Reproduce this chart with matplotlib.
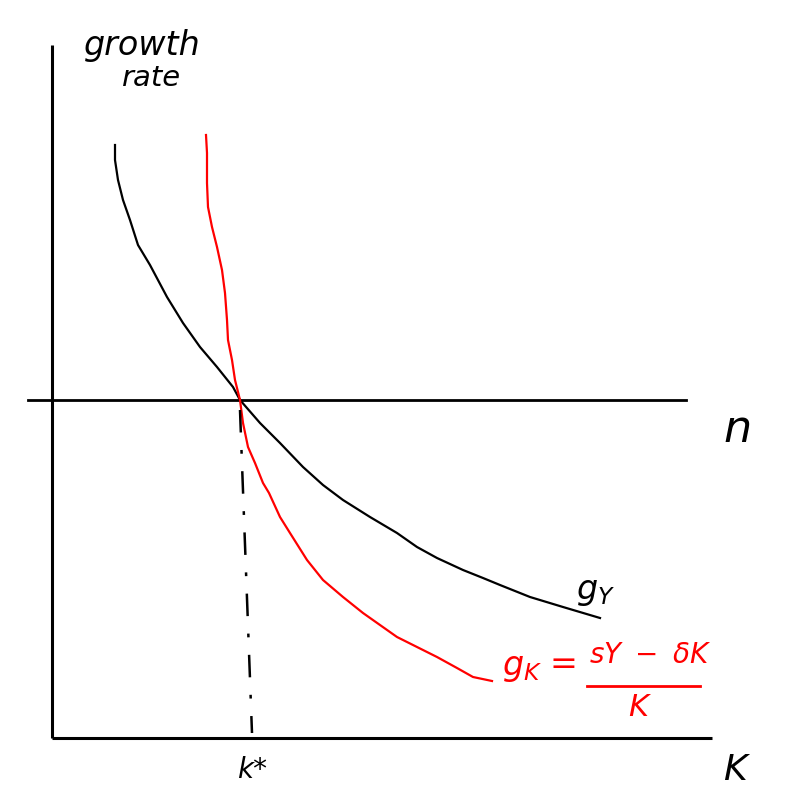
import numpy as np
import matplotlib
matplotlib.use("Agg")
import matplotlib.pyplot as plt

# chart units: K along the bottom axis, growth rate up the left axis
g_y_k = [0.63, 0.63, 0.66, 0.71, 0.78, 0.86, 0.98, 1.15, 1.31, 1.48, 1.65,
         1.81, 1.88, 2.08, 2.28, 2.51, 2.71, 2.91, 3.18, 3.45, 3.65, 3.85,
         4.11, 4.31, 4.48, 4.78, 5.11, 5.48]
g_y_rate = [5.93, 5.78, 5.58, 5.38, 5.18, 4.93, 4.73, 4.41, 4.15, 3.91, 3.71,
            3.51, 3.38, 3.15, 2.95, 2.71, 2.53, 2.38, 2.21, 2.05, 1.91, 1.80,
            1.68, 1.60, 1.53, 1.41, 1.31, 1.20]

g_k_k = [1.54, 1.55, 1.55, 1.56, 1.60, 1.65, 1.70, 1.73, 1.75, 1.76, 1.80,
         1.83, 1.88, 1.91, 1.96, 2.03, 2.11, 2.17, 2.28, 2.38, 2.55, 2.71,
         2.91, 3.11, 3.28, 3.45, 3.65, 3.85, 4.05, 4.21, 4.40]
g_k_rate = [6.03, 5.85, 5.55, 5.31, 5.11, 4.91, 4.68, 4.45, 4.18, 3.98, 3.78,
            3.58, 3.38, 3.15, 2.91, 2.75, 2.55, 2.45, 2.21, 2.05, 1.78, 1.58,
            1.41, 1.25, 1.13, 1.01, 0.91, 0.81, 0.70, 0.61, 0.57]

n_level = 3.38
k_star = [1.88, 2.00]          # top / bottom of the dotted drop line
axis_k_max = 6.6
axis_rate_max = 6.93

fig = plt.figure(figsize=(8, 8), dpi=100)
ax = fig.add_axes([0, 0, 1, 1])
ax.set_xlim(-0.52, 7.48)
ax.set_ylim(-0.62, 7.38)
ax.axis("off")

# axes
ax.plot([0, 0], [0, axis_rate_max], color="black", lw=2.2, solid_capstyle="butt")
ax.plot([0, axis_k_max], [0, 0], color="black", lw=2.2, solid_capstyle="butt")

# n line
ax.plot([-0.24, 6.34], [n_level, n_level], color="black", lw=2.0)

# curves
ax.plot(g_y_k, g_y_rate, color="black", lw=1.6, solid_joinstyle="round")
ax.plot(g_k_k, g_k_rate, color="red", lw=1.6, solid_joinstyle="round")

# k* drop line
ax.plot(k_star, [n_level - 0.1, 0.05], color="black", lw=1.8,
        linestyle=(0, (9, 7, 1.5, 7)))

hand = dict(family="DejaVu Sans", style="italic")
ax.text(0.32, 6.92, "growth", fontsize=24, ha="left", va="center", **hand)
ax.text(0.70, 6.60, "rate", fontsize=21, ha="left", va="center", **hand)
ax.text(6.86, 3.08, "n", fontsize=32, ha="center", va="center", **hand)
ax.text(6.83, -0.32, "K", fontsize=26, ha="center", va="center", **hand)
ax.text(2.00, -0.32, "k*", fontsize=20, ha="center", va="center", **hand)
ax.text(5.24, 1.46, r"$g_Y$", fontsize=24, ha="left", va="center", color="black")

# g_K = (sY - dK) / K
ax.text(4.50, 0.70, r"$g_K$", fontsize=24, ha="left", va="center", color="red")
ax.text(5.11, 0.73, "=", fontsize=24, ha="center", va="center", color="red")
ax.text(5.98, 0.83, r"$sY\ -\ \delta K$", fontsize=20, ha="center", va="center",
        color="red")
ax.plot([5.35, 6.48], [0.52, 0.52], color="red", lw=2.0)
ax.text(5.88, 0.31, r"$K$", fontsize=22, ha="center", va="center", color="red")

fig.savefig("out.png", dpi=100)
